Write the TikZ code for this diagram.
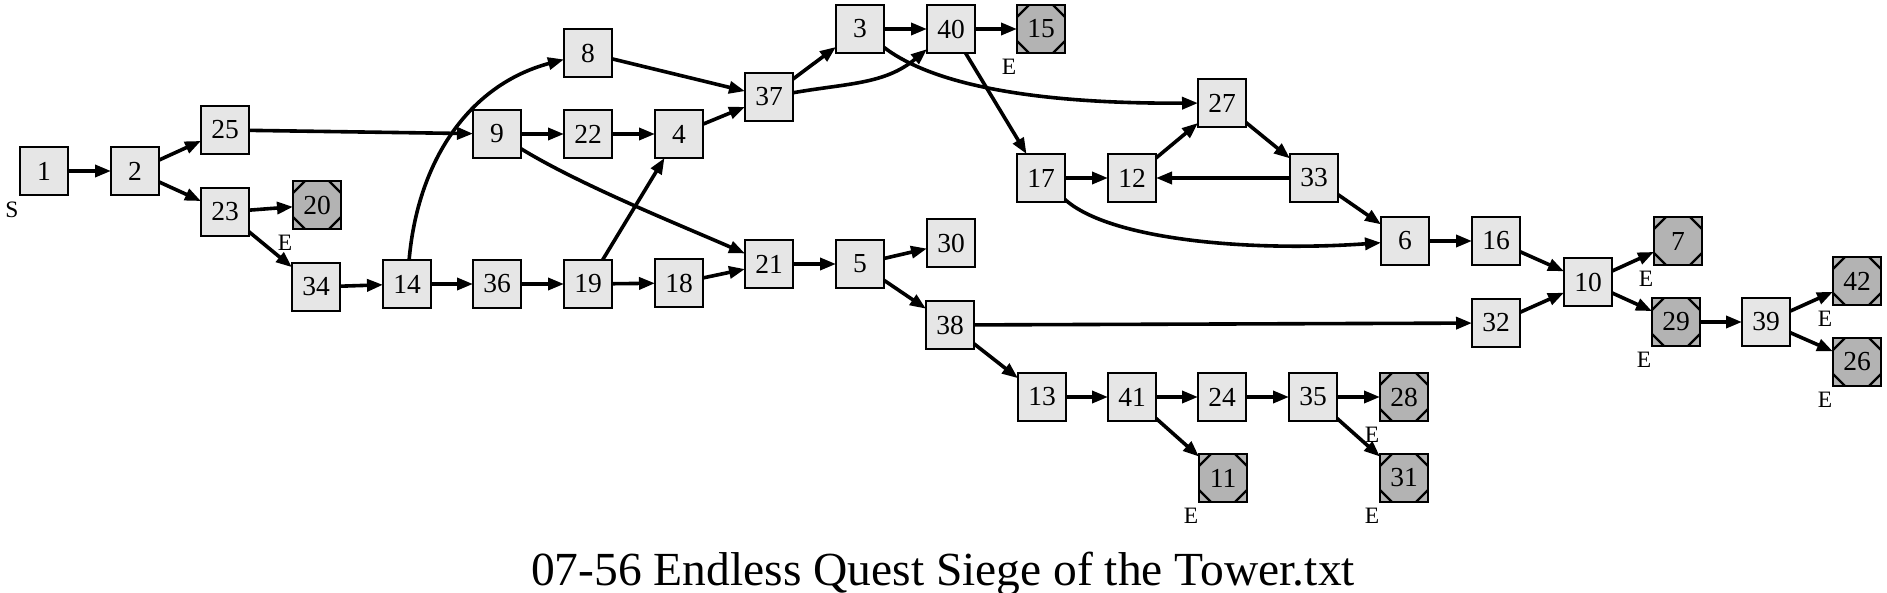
\documentclass[tikz,border=0pt]{standalone}
\usepackage{fontspec}
\setmainfont{Liberation Serif}
\usetikzlibrary{arrows.meta}
\definecolor{nfill}{RGB}{230,230,230}
\definecolor{efill}{RGB}{179,179,179}
\begin{document}
\begin{tikzpicture}[x=1pt,y=1pt,
  box/.style={draw, line width=2.6pt, fill=nfill, minimum width=48pt, minimum height=48pt,
    inner sep=0pt, outer sep=0pt, font=\fontsize{27.5}{30}\selectfont},
  endbox/.style={box, fill=efill, path picture={
    \draw[line width=2.2pt]
      ([yshift=-12pt]path picture bounding box.north west) -- ([xshift=12pt]path picture bounding box.north west)
      ([xshift=-12pt]path picture bounding box.north east) -- ([yshift=-12pt]path picture bounding box.north east)
      ([yshift=12pt]path picture bounding box.south west) -- ([xshift=12pt]path picture bounding box.south west)
      ([xshift=-12pt]path picture bounding box.south east) -- ([yshift=12pt]path picture bounding box.south east);
  }},
  lab/.style={font=\fontsize{23.5}{25}\selectfont, inner sep=0pt},
  edge/.style={line width=3.6pt, -{Triangle[length=16pt,width=12pt]}},
]
\path[use as bounding box] (0,0) rectangle (1887,-593);

% nodes
\node[box] (n1) at (44,-171) {1};
\node[box] (n2) at (135,-171) {2};
\node[box] (n25) at (225,-130) {25};
\node[box] (n23) at (225,-212) {23};
\node[endbox] (n20) at (317,-205) {20};
\node[box] (n34) at (316,-287) {34};
\node[box] (n14) at (407,-284) {14};
\node[box] (n36) at (497,-284) {36};
\node[box] (n19) at (588,-284) {19};
\node[box] (n18) at (679,-283) {18};
\node[box] (n8) at (588,-53) {8};
\node[box] (n9) at (497,-134) {9};
\node[box] (n22) at (588,-134) {22};
\node[box] (n4) at (679,-134) {4};
\node[box] (n37) at (769,-97) {37};
\node[box] (n21) at (769,-264) {21};
\node[box] (n5) at (860,-264) {5};
\node[box] (n30) at (951,-243) {30};
\node[box] (n38) at (950,-325) {38};
\node[box] (n3) at (860,-29) {3};
\node[box] (n40) at (951,-29) {40};
\node[endbox] (n15) at (1041,-29) {15};
\node[box] (n17) at (1041,-178) {17};
\node[box] (n12) at (1132,-178) {12};
\node[box] (n27) at (1222,-103) {27};
\node[box] (n33) at (1314,-178) {33};
\node[box] (n6) at (1405,-241) {6};
\node[box] (n16) at (1496,-241) {16};
\node[box] (n10) at (1588,-282) {10};
\node[endbox] (n7) at (1678,-241) {7};
\node[endbox] (n29) at (1676,-322) {29};
\node[box] (n39) at (1766,-322) {39};
\node[endbox] (n42) at (1857,-281) {42};
\node[endbox] (n26) at (1857,-362) {26};
\node[box] (n32) at (1496,-323) {32};
\node[box] (n13) at (1042,-397) {13};
\node[box] (n41) at (1132,-397) {41};
\node[box] (n24) at (1222,-397) {24};
\node[box] (n35) at (1313,-397) {35};
\node[endbox] (n28) at (1404,-397) {28};
\node[endbox] (n11) at (1223,-478) {11};
\node[endbox] (n31) at (1404,-478) {31};

% external labels
\node[lab] (s1) at (12,-210) {S};
\node[lab] (e20) at (285,-243) {E};
\node[lab] (e15) at (1009,-67) {E};
\node[lab] (e7) at (1646,-279) {E};
\node[lab] (e29) at (1644,-360) {E};
\node[lab] (e42) at (1825,-319) {E};
\node[lab] (e26) at (1825,-400) {E};
\node[lab] (e28) at (1372,-435) {E};
\node[lab] (e11) at (1191,-516) {E};
\node[lab] (e31) at (1372,-516) {E};

% title
\node[font=\fontsize{47.5}{50}\selectfont, inner sep=0pt, anchor=base] (title) at (943,-585) {07-56 Endless Quest Siege of the Tower.txt};

% edges
\draw[edge] (n1) -- (n2);
\draw[edge] (n2) -- (n25);
\draw[edge] (n2) -- (n23);
\draw[edge] (n23) -- (n20);
\draw[edge] (n23) -- (n34);
\draw[edge] (n25) -- (n9);
\draw[edge] (n34) -- (n14);
\draw[edge] (n14) -- (n36);
\draw[edge] (n14) to[out=85,in=195] (n8);
\draw[edge] (n36) -- (n19);
\draw[edge] (n19) -- (n18);
\draw[edge] (n19) -- (n4);
\draw[edge] (n18) -- (n21);
\draw[edge] (n9) -- (n22);
\draw[edge] (n9) .. controls (580,-185) and (680,-225) .. (n21);
\draw[edge] (n22) -- (n4);
\draw[edge] (n4) -- (n37);
\draw[edge] (n8) -- (n37);
\draw[edge] (n37) -- (n3);
\draw[edge] (n37) to[out=10,in=220] (n40);
\draw[edge] (n3) -- (n40);
\draw[edge] (n3) .. controls (920,-75) and (1000,-104) .. (n27);
\draw[edge] (n40) -- (n15);
\draw[edge] (n40) -- (n17);
\draw[edge] (n21) -- (n5);
\draw[edge] (n5) -- (n30);
\draw[edge] (n5) -- (n38);
\draw[edge] (n17) -- (n12);
\draw[edge] (n17) .. controls (1110,-240) and (1250,-252) .. (n6);
\draw[edge] (n12) -- (n27);
\draw[edge] (n33) -- (n12);
\draw[edge] (n27) -- (n33);
\draw[edge] (n33) -- (n6);
\draw[edge] (n6) -- (n16);
\draw[edge] (n16) -- (n10);
\draw[edge] (n38) -- (n32);
\draw[edge] (n32) -- (n10);
\draw[edge] (n10) -- (n7);
\draw[edge] (n10) -- (n29);
\draw[edge] (n29) -- (n39);
\draw[edge] (n39) -- (n42);
\draw[edge] (n39) -- (n26);
\draw[edge] (n38) -- (n13);
\draw[edge] (n13) -- (n41);
\draw[edge] (n41) -- (n24);
\draw[edge] (n41) -- (n11);
\draw[edge] (n24) -- (n35);
\draw[edge] (n35) -- (n28);
\draw[edge] (n35) -- (n31);
\end{tikzpicture}
\end{document}
